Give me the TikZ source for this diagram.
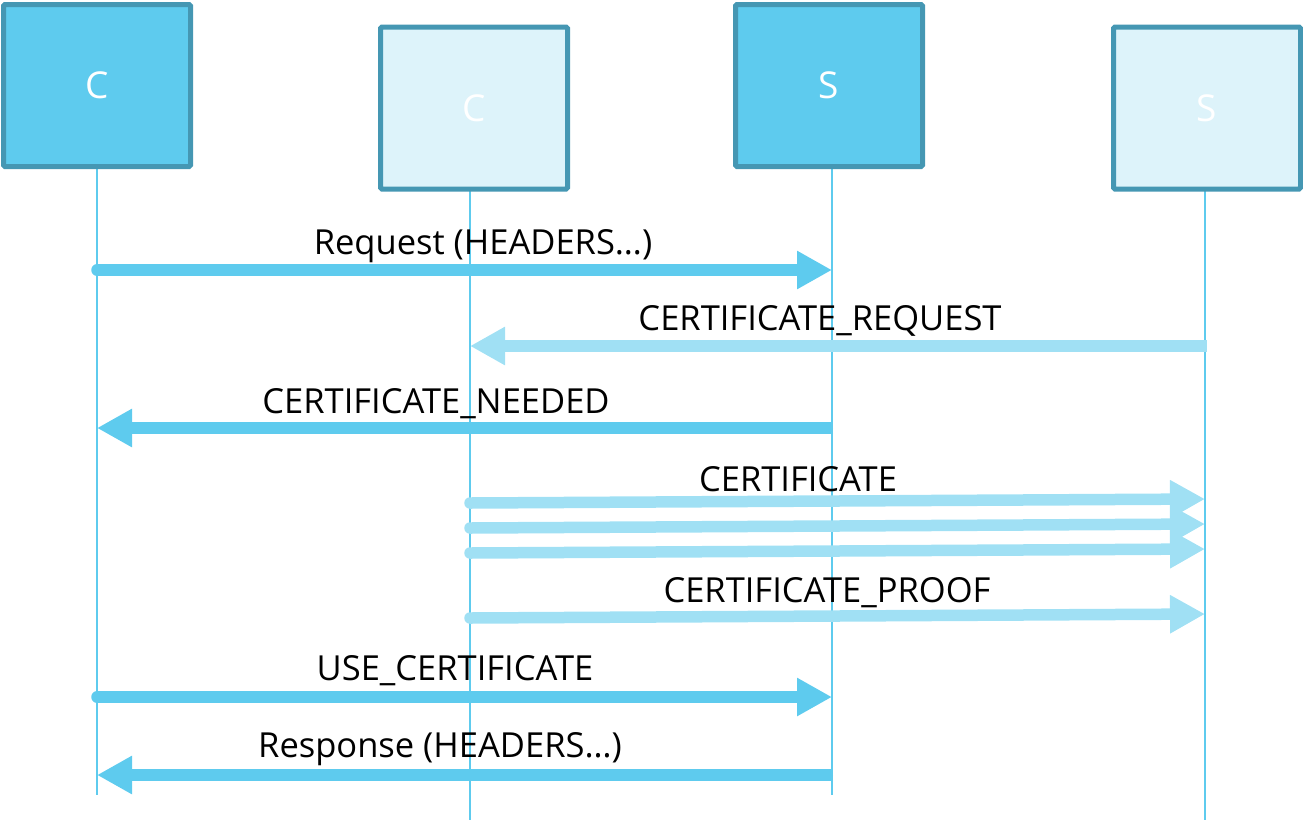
\documentclass[tikz,border=0pt]{standalone}
\usepackage{fontspec}
\setmainfont{Open Sans}
\usetikzlibrary{arrows.meta}
\definecolor{actdark}{HTML}{5ECBEE}
\definecolor{actlight}{HTML}{DDF3FA}
\definecolor{actborder}{HTML}{4597B3}
\definecolor{msglight}{HTML}{A0E0F4}
\tikzset{
  actor/.style={draw=actborder, line width=5pt, rounded corners=1.5pt,
    minimum width=187pt, minimum height=162pt, inner sep=0pt,
    text=white, font=\fontsize{37}{37}\selectfont},
  darkactor/.style={actor, fill=actdark},
  lightactor/.style={actor, fill=actlight},
  lifeline/.style={draw=actdark, line width=2pt},
  msg/.style={line width=11.5pt, -{Triangle[length=35pt,width=36pt]}},
  rightmsg/.style={msg, line cap=round},
  leftmsg/.style={msg, line cap=butt},
  darkcol/.style={draw=actdark, fill=actdark},
  lightcol/.style={draw=msglight, fill=msglight},
  label/.style={font=\fontsize{34.5}{34.5}\selectfont, text=black, inner sep=0pt}
}
\begin{document}
\begin{tikzpicture}[x=1pt,y=-1pt]
\useasboundingbox (0,0) rectangle (1303,820);

% lifelines
\coordinate (c1top) at (97,169);  \coordinate (c1bot) at (97,795);
\coordinate (c2top) at (470,191); \coordinate (c2bot) at (470,820);
\coordinate (s1top) at (832,169); \coordinate (s1bot) at (832,795);
\coordinate (s2top) at (1205,191);\coordinate (s2bot) at (1205,820);
\draw[lifeline] (c1top) -- (c1bot);
\draw[lifeline] (c2top) -- (c2bot);
\draw[lifeline] (s1top) -- (s1bot);
\draw[lifeline] (s2top) -- (s2bot);

% actors
\node[darkactor]  (c1) at (97,85.5)  {C};
\node[lightactor] (c2) at (474,108)  {C};
\node[darkactor]  (s1) at (829,85.5) {S};
\node[lightactor] (s2) at (1207,108) {S};

% message end points
\coordinate (m1a) at (97,270);   \coordinate (m1b) at (832,270);
\coordinate (m2a) at (1207,346); \coordinate (m2b) at (470,346);
\coordinate (m3a) at (833,428);  \coordinate (m3b) at (97,428);
\coordinate (m4a) at (470,503);  \coordinate (m4b) at (1205,499);
\coordinate (m5a) at (470,528);  \coordinate (m5b) at (1205,524);
\coordinate (m6a) at (470,553);  \coordinate (m6b) at (1205,549);
\coordinate (m7a) at (470,618);  \coordinate (m7b) at (1205,614);
\coordinate (m8a) at (97,697);   \coordinate (m8b) at (832,697);
\coordinate (m9a) at (833,775);  \coordinate (m9b) at (97,775);

% messages
\draw[rightmsg, darkcol]  (m1a) -- (m1b);
\draw[leftmsg,  lightcol] (m2a) -- (m2b);
\draw[leftmsg,  darkcol]  (m3a) -- (m3b);
\draw[rightmsg, lightcol] (m4a) -- (m4b);
\draw[rightmsg, lightcol] (m5a) -- (m5b);
\draw[rightmsg, lightcol] (m6a) -- (m6b);
\draw[rightmsg, lightcol] (m7a) -- (m7b);
\draw[rightmsg, darkcol]  (m8a) -- (m8b);
\draw[leftmsg,  darkcol]  (m9a) -- (m9b);

% labels
\node[label] (l1) at (483,246) {Request (HEADERS…)};
\node[label] (l2) at (820,321) {CERTIFICATE\_REQUEST};
\node[label] (l3) at (436,404) {CERTIFICATE\_NEEDED};
\node[label] (l4) at (798,479) {CERTIFICATE};
\node[label] (l5) at (827,593) {CERTIFICATE\_PROOF};
\node[label] (l6) at (455,671) {USE\_CERTIFICATE};
\node[label] (l7) at (440,749) {Response (HEADERS…)};
\end{tikzpicture}
\end{document}
